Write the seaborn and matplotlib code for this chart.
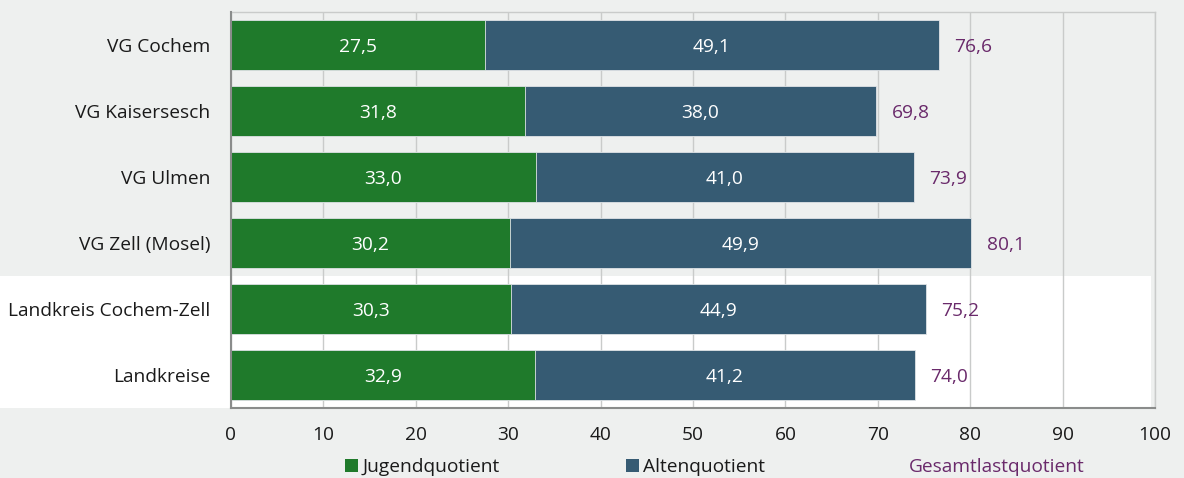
import numpy as np
import pandas as pd
import matplotlib
matplotlib.use("Agg")
import matplotlib.pyplot as plt
import matplotlib.transforms as mtransforms
from matplotlib.patches import Patch, Rectangle
import seaborn as sns

# Daten
regionen = ["VG Cochem", "VG Kaisersesch", "VG Ulmen", "VG Zell (Mosel)",
            "Landkreis Cochem-Zell", "Landkreise"]
jugend = [27.5, 31.8, 33.0, 30.2, 30.3, 32.9]
alten = [49.1, 38.0, 41.0, 49.9, 44.9, 41.2]
gesamt = [76.6, 69.8, 73.9, 80.1, 75.2, 74.0]
x_ticks = [0, 10, 20, 30, 40, 50, 60, 70, 80, 90, 100]

GREEN = "#1f7a2b"
BLUE = "#365b73"
PURPLE = "#6a2a6b"
BG = "#eef0ef"
GRID = "#c9cbca"
SPINE = "#8a8c8b"
TEXT = "#1a1a1a"
FS = 13.8

df = pd.DataFrame({"Region": regionen, "Jugend": jugend,
                   "Alten": alten, "Gesamt": gesamt})

sns.set_theme(style="white")
plt.rcParams["font.family"] = ["Open Sans", "DejaVu Sans"]

fig = plt.figure(figsize=(11.84, 4.78), dpi=100, facecolor=BG)
ax = fig.add_axes([231 / 1184, 1 - 408 / 478, 924 / 1184, 396 / 478])
ax.set_facecolor("none")

# Balken: blau bis Gesamtwert, gruen darueber
sns.barplot(data=df, y="Region", x="Gesamt", color=BLUE, width=0.76,
            saturation=1, orient="h", ax=ax, zorder=2,
            edgecolor="#dfe3e6", linewidth=0.6)
sns.barplot(data=df, y="Region", x="Jugend", color=GREEN, width=0.76,
            saturation=1, orient="h", ax=ax, zorder=3,
            edgecolor="#dfe3e6", linewidth=0.6)

ax.set_xlim(0, 100)
ax.set_ylim(len(regionen) - 0.5, -0.5)
ax.set_xlabel("")
ax.set_ylabel("")

# weisser Hintergrundstreifen fuer die Vergleichsregionen
trans = mtransforms.blended_transform_factory(fig.transFigure, ax.transData)
fig.patches.append(Rectangle((0, 3.5), 1151 / 1184, 2.0, transform=trans,
                             facecolor="white", edgecolor="none", zorder=-1))

def fmt(v):
    return f"{v:.1f}".replace(".", ",")

for i in range(len(regionen)):
    ax.text(jugend[i] / 2, i + 0.03, fmt(jugend[i]), ha="center", va="center",
            color="white", fontsize=FS, zorder=5)
    ax.text(jugend[i] + (gesamt[i] - jugend[i]) / 2, i + 0.03, fmt(alten[i]),
            ha="center", va="center", color="white", fontsize=FS, zorder=5)
    ax.text(gesamt[i] + 1.7, i + 0.03, fmt(gesamt[i]), ha="left", va="center",
            color=PURPLE, fontsize=FS, zorder=5)

# Achsen
ax.set_xticks(x_ticks)
ax.set_xticklabels([str(t) for t in x_ticks], fontsize=FS, color=TEXT)
ax.set_yticks(range(len(regionen)))
ax.set_yticklabels(regionen, fontsize=FS, color=TEXT)
ax.set_yticks(np.arange(-0.5, len(regionen), 1.0), minor=True)
ax.tick_params(axis="y", which="major", length=0, pad=15)
ax.tick_params(axis="y", which="minor", length=7, width=1.2, color=SPINE,
               direction="out")
ax.tick_params(axis="x", which="major", length=7, width=1.2, color=SPINE,
               direction="out", pad=6)
ax.xaxis.grid(True, color=GRID, linewidth=1)
ax.set_axisbelow(True)

for side in ["left", "bottom"]:
    ax.spines[side].set_color(SPINE)
    ax.spines[side].set_linewidth(1.5)
for side in ["top", "right"]:
    ax.spines[side].set_color(GRID)
    ax.spines[side].set_linewidth(1)
ax.spines["left"].set_zorder(6)
ax.spines["bottom"].set_zorder(6)

# Legende
handles = [Patch(facecolor=GREEN, edgecolor="none"),
           Patch(facecolor=BLUE, edgecolor="none"),
           Patch(facecolor="none", edgecolor="none")]
leg = fig.legend(handles, ["Jugendquotient", "Altenquotient", "Gesamtlastquotient"],
                 loc="center left", bbox_to_anchor=(345 / 1184, 1 - 467 / 478),
                 ncol=3, frameon=False, fontsize=FS, handlelength=0.7,
                 handleheight=0.7, handletextpad=0.2, columnspacing=6.6,
                 borderaxespad=0, borderpad=0)
for t in leg.get_texts():
    t.set_color(TEXT)
leg.get_texts()[2].set_color(PURPLE)

fig.savefig("out.png", dpi=100, facecolor=BG)
